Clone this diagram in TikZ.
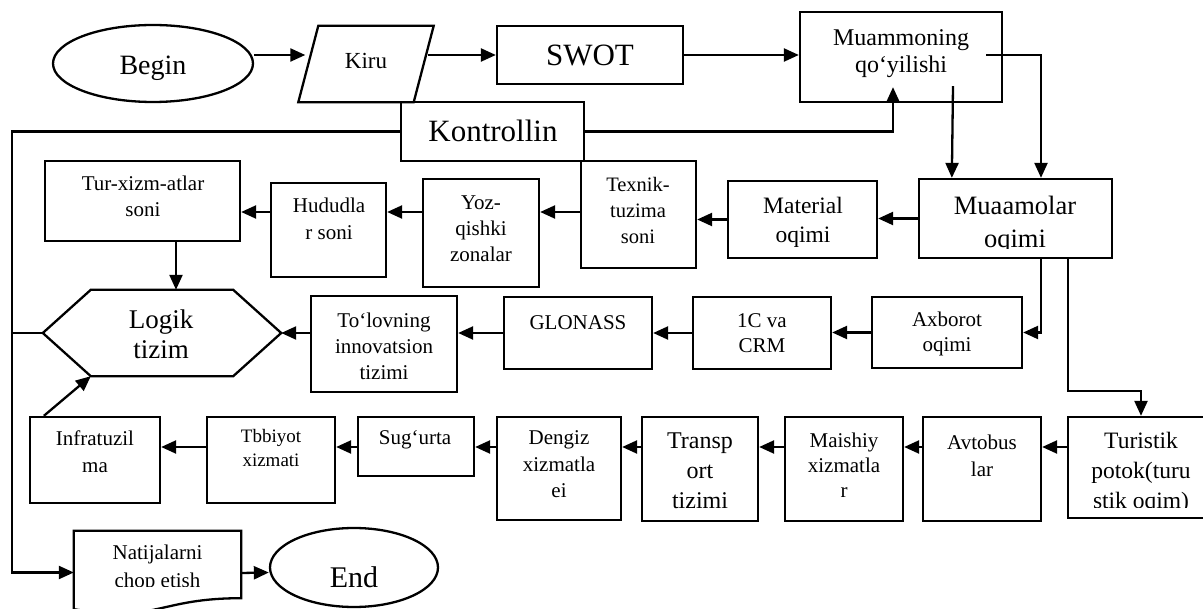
\documentclass[tikz,border=0pt]{standalone}
\usepackage{fontspec}
\setmainfont{Liberation Serif}
\usetikzlibrary{arrows.meta,shapes.geometric}
\newcommand\myfs[2]{\fontsize{#1}{#2}\selectfont}
\begin{document}
\begin{tikzpicture}[x=1pt,y=-1pt,
  box/.style={draw,line width=2.3pt,inner sep=0pt},
  oval/.style={draw,ellipse,line width=2.3pt,inner sep=0pt},
  ghost/.style={inner sep=0pt},
  txt/.style={anchor=base,align=center,inner sep=0pt},
  arr/.style={line width=2.3pt,-{Triangle[length=15pt,width=13pt]}},
  ln/.style={line width=2.3pt}]
\useasboundingbox (0,0) rectangle (1203,609);
% ---------- shapes ----------
\node[oval,minimum width=200,minimum height=77] (Begin) at (153,63.5) {};
\node[ghost,minimum width=115,minimum height=76] (Kiru) at (366,64) {};
\draw[ln] ([xshift=10]Kiru.north west) -- ([xshift=10]Kiru.north east) -- ([xshift=-10]Kiru.south east) -- ([xshift=-10]Kiru.south west) -- cycle;
\node[box,minimum width=186,minimum height=58] (SWOT) at (590,55) {};
\node[box,minimum width=202,minimum height=90] (Muam) at (901,57) {};
\node[box,minimum width=183,minimum height=59] (Kontr) at (492.5,131.5) {};
\node[box,minimum width=193,minimum height=79] (Muaa) at (1015.5,218.5) {};
\node[box,minimum width=149,minimum height=77] (Mater) at (802.5,219.5) {};
\node[box,minimum width=115,minimum height=107] (Texnik) at (638.5,214.5) {};
\node[box,minimum width=116,minimum height=108] (Yoz) at (481,233) {};
\node[box,minimum width=115,minimum height=94] (Hudud) at (328.5,230) {};
\node[box,minimum width=195,minimum height=80] (Tur) at (142.5,201) {};
\node[ghost,minimum width=238,minimum height=86] (Logik) at (162,333) {};
\draw[ln] (Logik.west) -- ([xshift=48]Logik.north west) -- ([xshift=-48]Logik.north east) -- (Logik.east) -- ([xshift=-48]Logik.south east) -- ([xshift=48]Logik.south west) -- cycle;
\node[box,minimum width=146,minimum height=96] (Tolov) at (384,344) {};
\node[box,minimum width=148,minimum height=72] (GLON) at (578,333) {};
\node[box,minimum width=138,minimum height=72] (OneC) at (762,333) {};
\node[box,minimum width=150,minimum height=71] (Axb) at (947,332.5) {};
\node[box,minimum width=146,minimum height=101] (Turist) at (1141,467.5) {};
\node[box,minimum width=118,minimum height=104] (Avt) at (982,469) {};
\node[box,minimum width=118,minimum height=104] (Maish) at (844,469) {};
\node[box,minimum width=116,minimum height=104] (Transp) at (700,469) {};
\node[box,minimum width=124,minimum height=103] (Deng) at (559,468.5) {};
\node[box,minimum width=116,minimum height=59] (Sug) at (416,446.5) {};
\node[box,minimum width=128,minimum height=86] (Tbb) at (271,460) {};
\node[box,minimum width=130,minimum height=86] (Infra) at (95,460) {};
\node[ghost,minimum width=167,minimum height=67] (Natij) at (157.5,564.5) {};
\draw[ln] (Natij.north west) -- (Natij.north east) -- (Natij.south east) .. controls (Natij.south) and ([yshift=-25]Natij.south) .. ([yshift=-11]Natij.south west) -- cycle;
\node[oval,minimum width=168,minimum height=79] (End) at (354,567.5) {};
% ---------- texts (anchored at the last line's baseline) ----------
\node[txt,font=\myfs{28}{32}] (tBegin) at (153,75) {Begin};
\node[txt,font=\myfs{23}{27}] (tKiru) at (366,69) {Kiru};
\node[txt,font=\myfs{31}{35}] (tSWOT) at (590,66) {SWOT};
\node[txt,font=\myfs{24}{27}] (tMuam) at (901,73) {Muammoning\\qo‘yilishi};
\node[txt,font=\myfs{31}{35}] (tKontr) at (493,142) {Kontrollin};
\begin{scope}
\clip (920,180) rectangle (1111,249);
\node[txt,font=\myfs{26.5}{33}] (tMuaa) at (1015,248) {Muaamolar\\oqimi};
\end{scope}
\node[txt,font=\myfs{23.5}{29}] (tMater) at (803,243) {Material\\oqimi};
\node[txt,font=\myfs{20.5}{26}] (tTexnik) at (638,244) {Texnik-\\tuzima\\soni};
\node[txt,font=\myfs{21}{26}] (tYoz) at (481,262) {Yoz-\\qishki\\zonalar};
\node[txt,font=\myfs{21}{27}] (tHudud) at (329,240) {Hududla\\r soni};
\node[txt,font=\myfs{21}{26}] (tTur) at (143,217) {Tur-xizm-atlar\\soni};
\node[txt,font=\myfs{27}{30}] (tLogik) at (161,359) {Logik\\tizim};
\node[txt,font=\myfs{21}{26}] (tTolov) at (384,380) {To‘lovning\\innovatsion\\tizimi};
\node[txt,font=\myfs{21}{25}] (tGLON) at (578,330) {GLONASS};
\node[txt,font=\myfs{21}{25}] (tOneC) at (762,353) {1C va\\CRM};
\node[txt,font=\myfs{21}{25}] (tAxb) at (947,352) {Axborot\\oqimi};
\begin{scope}
\clip (1070,420) rectangle (1203,508);
\node[txt,font=\myfs{23.5}{30}] (tTurist) at (1141,509) {Turistik\\potok(turu\\stik oqim)};
\end{scope}
\node[txt,font=\myfs{21}{27}] (tAvt) at (982,477) {Avtobus\\lar};
\node[txt,font=\myfs{21}{25.5}] (tMaish) at (844,498) {Maishiy\\xizmatla\\r};
\node[txt,font=\myfs{24}{30}] (tTransp) at (700,508) {Transp\\ort\\tizimi};
\node[txt,font=\myfs{21}{26.5}] (tDeng) at (559,498) {Dengiz\\xizmatla\\ei};
\node[txt,font=\myfs{21}{25}] (tSug) at (415,445) {Sug‘urta};
\node[txt,font=\myfs{19}{24}] (tTbb) at (271,467) {Tbbiyot\\xizmati};
\node[txt,font=\myfs{21}{27}] (tInfra) at (95,473) {Infratuzil\\ma};
\begin{scope}
\clip (76,532) rectangle (239,586);
\node[txt,font=\myfs{21}{28}] (tNatij) at (157.5,587) {Natijalarni\\chop etish};
\end{scope}
\node[txt,font=\myfs{30}{34}] (tEnd) at (354,587) {End};
% ---------- connectors ----------
\coordinate (leftx) at (12,0);
\coordinate (rowA) at (0,212);
\coordinate (rowB) at (0,447);
\draw[arr] ([yshift=8.5]Begin.east) -- ([yshift=9,xshift=-3]Kiru.west);
\draw[arr] ([yshift=9,xshift=4]Kiru.east) -- (SWOT.west);
\draw[arr] (SWOT.east) -- ([yshift=2]Muam.west);
\draw[arr] (Kontr.east) -| ([xshift=-8,yshift=16]Muam.south);
\draw[arr] ([xshift=-17,yshift=2]Muam.east) -| ([xshift=25.5]Muaa.north);
\draw[arr] ([xshift=52,yshift=17]Muam.south) -- ([xshift=34]Muaa.north west);
\draw[arr] (Muaa.west) -- (Mater.east |- Muaa.west);
\draw[arr] (Mater.west) -- (Texnik.east |- Mater.west);
\draw[arr] (Texnik.west |- rowA) -- (Yoz.east |- rowA);
\draw[arr] (Yoz.west |- rowA) -- (Hudud.east |- rowA);
\draw[arr] (Hudud.west |- rowA) -- (Tur.east |- rowA);
\draw[arr] ([xshift=33.5]Tur.south) -- ([xshift=14]Logik.north);
\draw[arr] ([xshift=25.5]Muaa.south) |- (Axb.east);
\draw[arr] (Axb.west) -- (OneC.east |- Axb.west);
\draw[arr] (OneC.west) -- (GLON.east);
\draw[arr] (GLON.west) -- (Tolov.east |- GLON.west);
\draw[arr] (Tolov.west |- Logik.east) -- (Logik.east);
\draw[arr] ([xshift=52.5]Muaa.south) -- ++(0,132) -| (Turist.north);
\draw[arr] (Turist.west |- rowB) -- (Avt.east |- rowB);
\draw[arr] (Avt.west |- rowB) -- (Maish.east |- rowB);
\draw[arr] (Maish.west |- rowB) -- (Transp.east |- rowB);
\draw[arr] (Transp.west |- rowB) -- (Deng.east |- rowB);
\draw[arr] (Deng.west |- rowB) -- (Sug.east |- rowB);
\draw[arr] (Sug.west |- rowB) -- (Tbb.east |- rowB);
\draw[arr] (Tbb.west |- rowB) -- (Infra.east |- rowB);
\draw[arr] ([xshift=15]Infra.north west) -- ([xshift=48]Logik.south west);
\draw[ln] (Logik.west) -- (Logik.west -| leftx);
\draw[arr] (Kontr.west) -- (Kontr.west -| leftx) |- ([yshift=-8]Natij.west);
\draw[arr] ([yshift=-8.5]Natij.east) -- ([yshift=-5]End.west);
\end{tikzpicture}
\end{document}
